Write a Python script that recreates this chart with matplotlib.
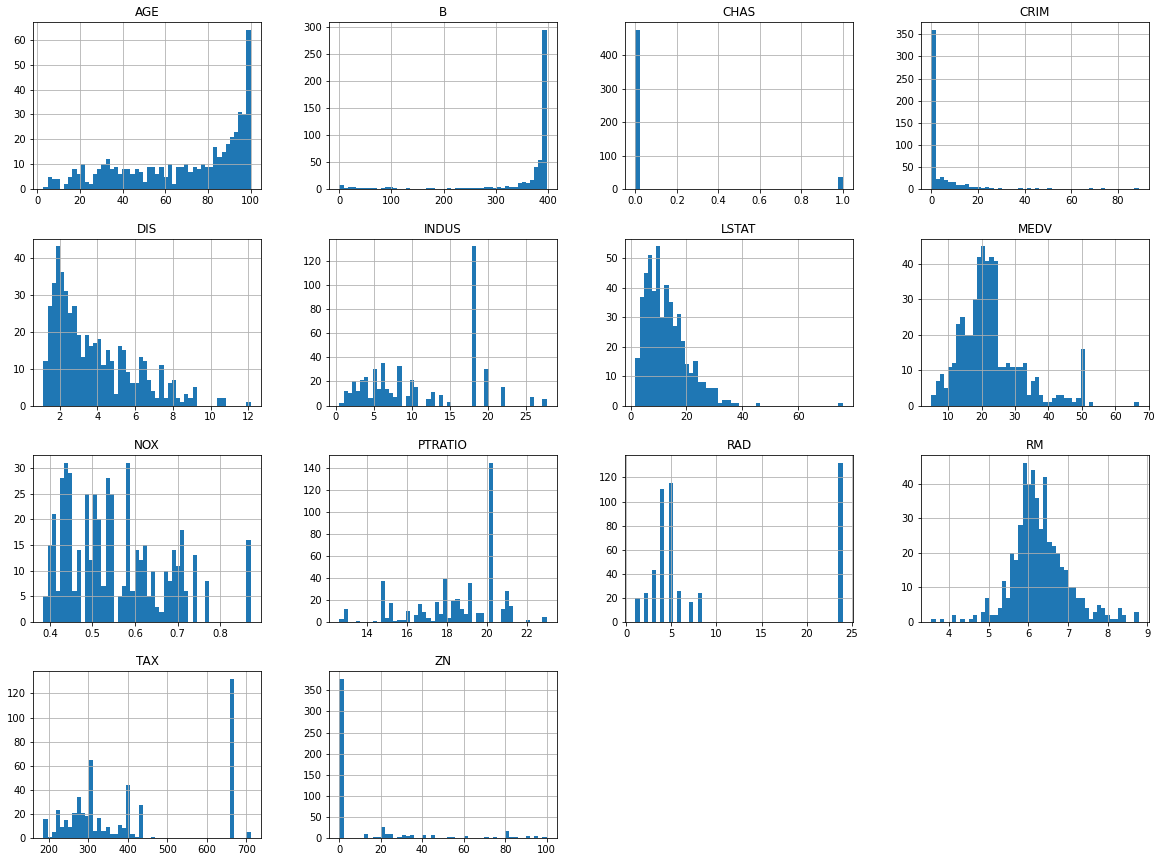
import matplotlib
matplotlib.use("Agg")
import matplotlib.pyplot as plt
import numpy as np

# ---------------- data: per-column histogram counts (50 bins) ----------------
age_range = (2.9, 100.0)
age_counts = [1, 5, 4, 4, 0, 2, 5, 8, 6, 10,
              3, 2, 6, 8, 10, 12, 8, 9, 6, 8,
              8, 6, 8, 7, 3, 9, 9, 6, 9, 5,
              10, 2, 9, 9, 10, 7, 9, 8, 10, 9,
              9, 17, 13, 15, 18, 21, 23, 31, 30, 64]

b_range = (0.32, 396.9)
b_counts = [8, 1, 4, 4, 2, 2, 2, 2, 2, 0,
            2, 4, 4, 2, 0, 0, 2, 0, 0, 0,
            0, 2, 2, 0, 0, 0, 2, 0, 2, 2,
            2, 2, 2, 2, 2, 3, 3, 2, 4, 2,
            6, 4, 4, 11, 13, 11, 17, 41, 54, 295]

chas_range = (0.0, 1.0)
chas_counts = [475, 0, 0, 0, 0, 0, 0, 0, 0, 0,
               0, 0, 0, 0, 0, 0, 0, 0, 0, 0,
               0, 0, 0, 0, 0, 0, 0, 0, 0, 0,
               0, 0, 0, 0, 0, 0, 0, 0, 0, 0,
               0, 0, 0, 0, 0, 0, 0, 0, 0, 36]

crim_range = (0.00632, 88.9762)
crim_counts = [360, 23, 28, 21, 16, 16, 10, 10, 12, 4,
               5, 5, 3, 5, 3, 0, 2, 0, 0, 0,
               0, 2, 0, 2, 0, 2, 0, 0, 2, 0,
               0, 0, 0, 0, 0, 0, 0, 0, 2, 0,
               0, 2, 0, 0, 0, 0, 0, 0, 0, 2]

dis_range = (1.1296, 12.1265)
dis_counts = [12, 27, 33, 43, 36, 31, 25, 27, 19, 13,
              19, 16, 17, 18, 11, 15, 12, 3, 16, 15,
              9, 6, 6, 13, 12, 7, 4, 2, 11, 2,
              6, 7, 2, 1, 3, 2, 5, 0, 0, 0,
              0, 0, 2, 2, 0, 0, 0, 0, 0, 1]

indus_range = (0.46, 27.74)
indus_counts = [2, 12, 10, 20, 12, 21, 24, 6, 30, 14,
                35, 14, 10, 7, 33, 0, 8, 21, 15, 0,
                0, 5, 11, 0, 9, 0, 3, 0, 0, 0,
                0, 0, 132, 0, 0, 30, 0, 0, 0, 15,
                0, 0, 0, 0, 0, 0, 7, 0, 0, 5]

lstat_range = (1.73, 75.8)
lstat_counts = [16, 37, 45, 51, 39, 54, 30, 41, 35, 27,
                31, 22, 14, 11, 15, 8, 8, 6, 6, 6,
                1, 2, 2, 1, 1, 0, 0, 0, 0, 1,
                0, 0, 0, 0, 0, 0, 0, 0, 0, 0,
                0, 0, 0, 0, 0, 0, 0, 0, 0, 1]

medv_range = (5.0, 67.0)
medv_counts = [3, 7, 9, 5, 11, 12, 23, 25, 20, 20,
               30, 42, 45, 41, 42, 41, 11, 11, 12, 11,
               11, 11, 12, 3, 7, 8, 3, 1, 1, 2,
               3, 3, 2, 2, 1, 2, 16, 0, 1, 0,
               0, 0, 0, 0, 0, 0, 0, 0, 0, 1]

nox_range = (0.385, 0.871)
nox_counts = [5, 15, 21, 6, 28, 31, 29, 6, 14, 0,
              25, 12, 25, 20, 7, 28, 25, 0, 5, 7,
              31, 6, 14, 12, 15, 5, 10, 3, 2, 10,
              8, 14, 11, 18, 6, 0, 13, 0, 0, 8,
              0, 0, 0, 0, 0, 0, 0, 0, 0, 16]

ptratio_range = (12.6, 23.0)
ptratio_counts = [3, 12, 0, 0, 1, 0, 0, 0, 1, 0,
                  37, 4, 17, 1, 2, 2, 10, 0, 6, 16,
                  9, 4, 1, 18, 7, 39, 4, 19, 21, 12,
                  7, 36, 0, 8, 8, 0, 145, 0, 0, 12,
                  28, 15, 0, 0, 0, 2, 0, 0, 0, 5]

rad_range = (1.0, 24.0)
rad_counts = [20, 0, 24, 0, 43, 0, 110, 0, 115, 0,
              26, 0, 0, 17, 0, 24, 0, 0, 0, 0,
              0, 0, 0, 0, 0, 0, 0, 0, 0, 0,
              0, 0, 0, 0, 0, 0, 0, 0, 0, 0,
              0, 0, 0, 0, 0, 0, 0, 0, 0, 132]

rm_range = (3.561, 8.78)
rm_counts = [1, 0, 1, 0, 0, 2, 0, 1, 0, 1,
             2, 0, 3, 7, 2, 2, 4, 12, 7, 20,
             18, 28, 46, 40, 44, 36, 27, 42, 23, 22,
             20, 16, 15, 10, 10, 7, 7, 4, 1, 3,
             5, 4, 2, 1, 1, 4, 2, 0, 0, 3]

tax_range = (187.0, 711.0)
tax_counts = [16, 1, 5, 23, 9, 15, 9, 21, 34, 21,
              18, 65, 6, 17, 6, 9, 3, 3, 11, 8,
              44, 3, 1, 27, 0, 0, 1, 0, 0, 0,
              0, 0, 0, 0, 0, 0, 0, 0, 0, 0,
              0, 0, 0, 0, 0, 132, 0, 0, 0, 5]

zn_range = (0.0, 100.0)
zn_counts = [377, 0, 0, 0, 0, 0, 10, 0, 2, 2,
             26, 10, 10, 0, 3, 7, 5, 7, 0, 0,
             7, 0, 6, 0, 0, 0, 3, 3, 0, 0,
             4, 0, 0, 0, 0, 3, 0, 3, 0, 0,
             16, 2, 2, 0, 0, 5, 0, 4, 0, 2]

column_names = ["AGE", "B", "CHAS", "CRIM", "DIS", "INDUS", "LSTAT",
                "MEDV", "NOX", "PTRATIO", "RAD", "RM", "TAX", "ZN"]
column_ranges = [age_range, b_range, chas_range, crim_range, dis_range,
                 indus_range, lstat_range, medv_range, nox_range,
                 ptratio_range, rad_range, rm_range, tax_range, zn_range]
column_counts = [age_counts, b_counts, chas_counts, crim_counts, dis_counts,
                 indus_counts, lstat_counts, medv_counts, nox_counts,
                 ptratio_counts, rad_counts, rm_counts, tax_counts, zn_counts]
N_BINS = 50

# ---------------- layout (pixels) ----------------
W, H = 1162, 862
DPI = 72
AX_W, AX_H = 228, 167
col_lefts = [33, 329, 625, 921]
row_tops = [22, 238.5, 455, 671]

fig = plt.figure(figsize=(W / DPI, H / DPI), dpi=DPI, facecolor="white")

for i, (name, (lo, hi), counts) in enumerate(zip(column_names, column_ranges, column_counts)):
    r, c = divmod(i, 4)
    left = col_lefts[c]
    top = row_tops[r]
    ax = fig.add_axes([left / W, 1 - (top + AX_H) / H, AX_W / W, AX_H / H])
    edges = np.linspace(lo, hi, N_BINS + 1)
    centers = (edges[:-1] + edges[1:]) / 2
    ax.hist(centers, bins=edges, weights=counts, color="#1f77b4")
    ax.grid(True)
    ax.set_title(name)

fig.savefig("out.png", dpi=DPI, facecolor="white")
